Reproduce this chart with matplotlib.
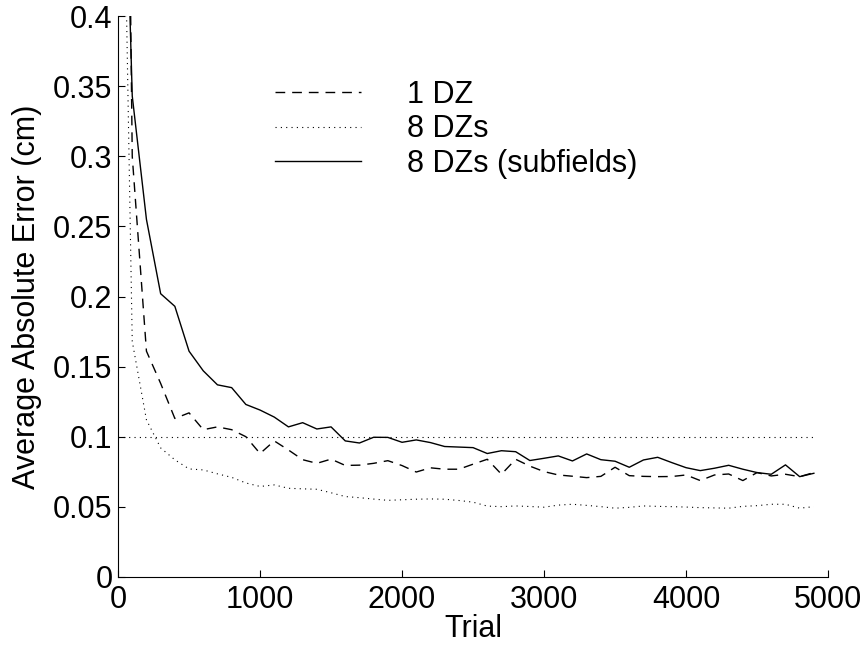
import matplotlib
matplotlib.use('Agg')
import matplotlib.pyplot as plt

plt.rcParams['font.family'] = ['Liberation Sans', 'DejaVu Sans']

# trial numbers (every 100 trials)
trials = list(range(0, 5000, 100))

# 1 DZ (dashed)
err_1dz = [1.2, 0.300, 0.161, 0.138, 0.113, 0.117, 0.105, 0.107, 0.105, 0.100,
           0.088, 0.097, 0.0905, 0.0836, 0.081, 0.084, 0.0795, 0.0797, 0.081, 0.0829,
           0.0794, 0.0748, 0.0778, 0.0768, 0.0768, 0.0804, 0.0839, 0.0732, 0.0839, 0.079,
           0.0751, 0.0727, 0.0718, 0.0708, 0.0717, 0.0782, 0.0722, 0.0717, 0.0715, 0.0716,
           0.0727, 0.0687, 0.0727, 0.0734, 0.0687, 0.0744, 0.072, 0.0732, 0.0715, 0.0744]

# 8 DZs (dotted)
err_8dz = [0.75, 0.168, 0.112, 0.092, 0.0835, 0.077, 0.0763, 0.0735, 0.071, 0.067,
           0.0645, 0.0656, 0.0632, 0.0628, 0.0625, 0.060, 0.0573, 0.0565, 0.0555, 0.0546,
           0.0550, 0.0554, 0.0556, 0.0554, 0.0545, 0.0533, 0.0505, 0.0501, 0.0506, 0.0502,
           0.0497, 0.0512, 0.0518, 0.051, 0.0501, 0.049, 0.0496, 0.0506, 0.0503, 0.0501,
           0.0498, 0.0494, 0.0492, 0.049, 0.0503, 0.0508, 0.0518, 0.0518, 0.049, 0.0501]

# 8 DZs (subfields) (solid)
err_sub = [0.70, 0.343, 0.255, 0.202, 0.193, 0.161, 0.147, 0.137, 0.135, 0.123,
           0.119, 0.114, 0.107, 0.110, 0.1055, 0.107, 0.097, 0.0955, 0.0996, 0.0995,
           0.096, 0.0977, 0.0958, 0.093, 0.0926, 0.0922, 0.088, 0.090, 0.0893, 0.083,
           0.0846, 0.0863, 0.0827, 0.0877, 0.0836, 0.0825, 0.0782, 0.0834, 0.0853, 0.0815,
           0.0779, 0.0758, 0.0775, 0.0796, 0.0768, 0.0744, 0.0732, 0.0799, 0.0715, 0.0739]

# reference level
ref_x = [0, 4900]
ref_y = [0.1, 0.1]

fig = plt.figure(figsize=(8.68, 6.46), dpi=100)
ax = fig.add_axes([0.136, 0.107, 0.818, 0.868])

ax.plot(trials, err_1dz, color='black', lw=1.0, dashes=(7, 5), label='1 DZ')
ax.plot(trials, err_8dz, color='black', lw=0.8, dashes=(1, 3.8), label='8 DZs')
ax.plot(trials, err_sub, color='black', lw=1.0, label='8 DZs (subfields)')
ax.plot(ref_x, ref_y, color='black', lw=0.8, dashes=(1, 3.8))

ax.set_xlim(0, 5000)
ax.set_ylim(0, 0.4)
ax.set_xticks([0, 1000, 2000, 3000, 4000, 5000])
ax.set_yticks([0, 0.05, 0.1, 0.15, 0.2, 0.25, 0.3, 0.35, 0.4])
ax.set_yticklabels(['0', '0.05', '0.1', '0.15', '0.2', '0.25', '0.3', '0.35', '0.4'])

for s in ['top', 'right']:
    ax.spines[s].set_visible(False)
ax.tick_params(direction='in', length=5, width=0.8, labelsize=22)
ax.tick_params(axis='y', pad=4)
ax.tick_params(axis='x', pad=6)

ax.set_xlabel('Trial', fontsize=22, labelpad=-1)
ax.set_ylabel('Average Absolute Error (cm)', fontsize=22, labelpad=8)

ax.legend(loc='upper left', bbox_to_anchor=(0.2, 0.914), frameon=False, fontsize=22,
          handlelength=2.8, handletextpad=1.5, labelspacing=0.15, borderpad=0)

fig.savefig('out.png', dpi=100)
